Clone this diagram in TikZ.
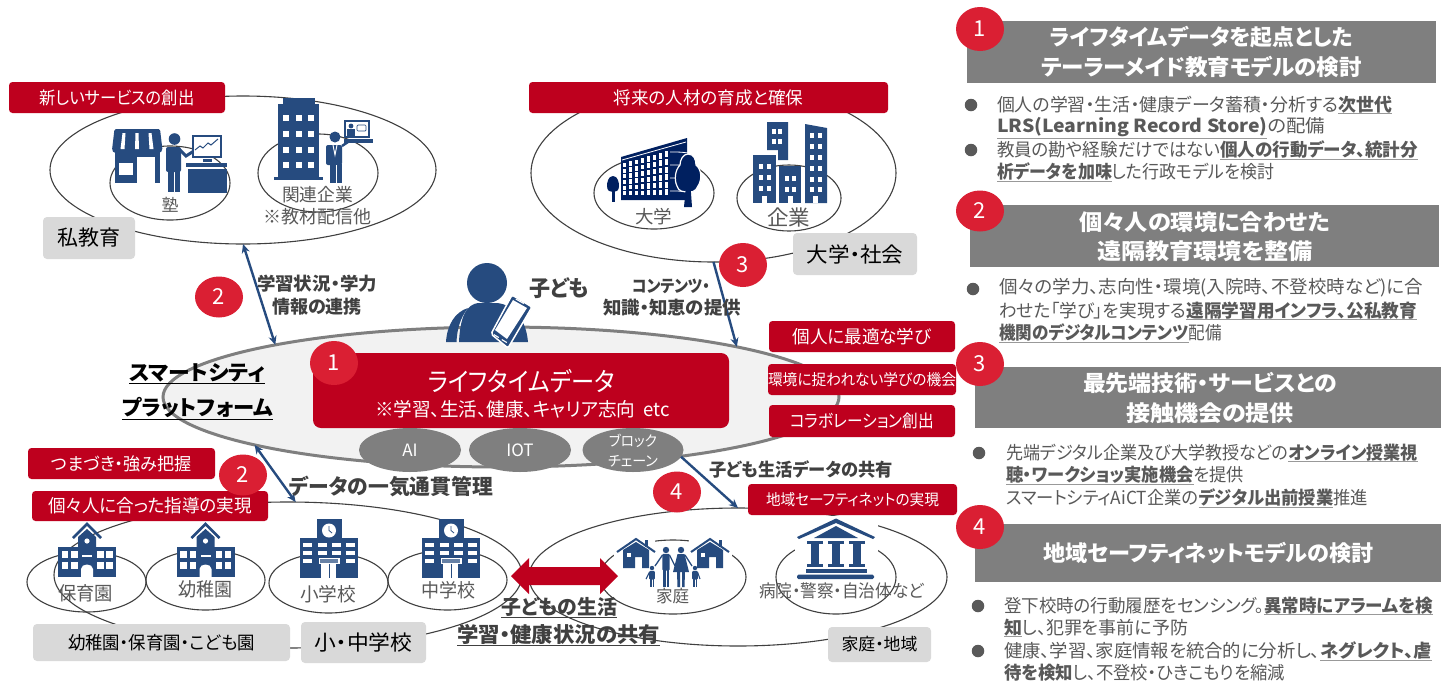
\documentclass[tikz,border=0pt]{standalone}
\usepackage{fontspec}
\usetikzlibrary{shapes.geometric,arrows.meta}
\setmainfont[RawFeature=+palt]{Noto Sans CJK JP}
\definecolor{redL}{HTML}{BE001E}
\definecolor{redC}{HTML}{DA1F33}
\definecolor{icb}{HTML}{264B7F}
\definecolor{navy}{HTML}{002060}
\definecolor{grayH}{HTML}{7F7F7F}
\definecolor{grayB}{HTML}{D9D9D9}
\definecolor{txtG}{HTML}{595959}
\definecolor{txtD}{HTML}{404040}
\definecolor{lineG}{HTML}{404040}
\newsavebox\mybx
\newcommand\fitw[2]{\sbox\mybx{#2}\pgfmathsetmacro\myfr{#1/\the\wd\mybx}\scalebox{\myfr}[1]{\usebox\mybx}}
\newcommand\ulx[2][.9pt]{\leavevmode\vtop{\hbox{#2}\kern.6pt\hrule height#1}}
\newcommand\ulg[1]{\leavevmode\vtop{\hbox{\bfseries #1}\kern.6pt{\color{black!40}\hrule height1pt}}}
\tikzset{
  fs/.style={font=\fontsize{#1}{#1}\selectfont},
  bfs/.style={font=\fontsize{#1}{#1}\selectfont\bfseries},
  txt/.style={inner sep=0pt,outer sep=0pt,text=txtG},
  ovl/.style={draw=lineG,line width=1.1pt},
  redbox/.style={rectangle,fill=redL,rounded corners=3.5pt,text=white},
  greybox/.style={rectangle,fill=grayB,rounded corners=4pt,text=black},
  hdrbox/.style={rectangle,fill=grayH},
  numc/.style={fill=redC,text=white},
  blob/.style={fill=grayH,text=white},
  bul/.style={circle,fill=txtG,inner sep=0pt,outer sep=0pt,minimum size=12.5pt},
  conn/.style={draw=icb,line width=2.4pt},
  tipE/.style={-{Stealth[length=9pt,width=8pt]}},
  tipB/.style={{Stealth[length=9pt,width=8pt]}-{Stealth[length=9pt,width=8pt]}},
  ic/.style={fill=icb},
}
% text line: name, x, y, width, style, content
\newcommand\tl[6]{\node[txt,#5] (#1) at (#2,#3) {\fitw{#4}{#6}};}
% box: style, name, x1,y1,x2,y2, content
\newcommand\boxn[7]{\node[#1,inner sep=0pt,outer sep=0pt,minimum width={(#5-#3)*1pt},minimum height={(#6-#4)*1pt}] (#2) at ({(#3+#5)/2},{(#4+#6)/2}) {#7};}
% ellipse: style, name, cx,cy,rx,ry, content
\newcommand\ovn[7]{\node[ellipse,#1,inner sep=0pt,outer sep=0pt,minimum width={2*#5*1pt},minimum height={2*#6*1pt}] (#2) at (#3,#4) {#7};}
\newcommand\numn[5]{\ovn{numc}{#1}{#2}{#3}{24}{#4}{\fontsize{22}{22}\selectfont #5}}
\newcommand\icoKinder[2]{\begin{scope}[shift={(#1,#2)}]
  \draw[icb,line width=2.6pt] (-14,-39)--(0,-53)--(14,-39);
  \fill[ic] (-29,-30) rectangle (29,0);
  \fill[ic] (-9,-30)--(-9,-40)--(0,-48)--(9,-40)--(9,-30)--cycle;
  \fill[white] (0,-36) circle[radius=2.6pt];
  \foreach \a in {-25.5,-16,10,19} \foreach \b in {-26,-15} \fill[white] (\a,\b) rectangle ++(6.5,6.5);
  \fill[white] (-5,-22) rectangle (5,-20);
  \fill[white] (-6,0)--(-6,-8) .. controls (-6,-14) and (6,-14) .. (6,-8)--(6,0)--cycle;
\end{scope}}
\newcommand\icoSchool[2]{\begin{scope}[shift={(#1,#2)}]
  \fill[ic] (-29,-40) rectangle (29,0);
  \fill[ic] (-12.5,-59) rectangle (12.5,-40);
  \fill[white] (0,-47.5) circle[radius=7pt];
  \draw[icb,line width=.8pt] (0,-52)--(0,-47.5)--(3,-45);
  \foreach \a in {-26,-11,3,17} \foreach \b in {-35,-27} \fill[white] (\a,\b) rectangle ++(8.6,4);
  \foreach \a in {-26,17} \fill[white] (\a,-19) rectangle ++(8.6,4);
  \fill[white] (-8,-14) rectangle (7,0);
  \draw[icb,line width=.7pt] (0,-14)--(0,0);
  \fill[white] (-10.5,-20) rectangle (10.5,-14);
  \fill[icb!70] (-9,-19) rectangle (9,-15);
\end{scope}}
\newcommand\icoPpl[5]{% cx, head y, head r, half width, bottom
  \fill[ic] (#1,#2) circle[radius=#3pt];
  \fill[ic,rounded corners=1pt] ({#1-#4},{#2+#3+.6}) rectangle ({#1+#4},{(#2+#5)/2+2});
  \fill[ic] ({#1-#4+.5},{(#2+#5)/2}) rectangle ({#1-.5},#5);
  \fill[ic] ({#1+.5},{(#2+#5)/2}) rectangle ({#1+#4-.5},#5);
}
\newcommand\icoHouse[2]{\begin{scope}[shift={(#1,#2)}]
  \draw[icb,line width=2pt] (-19,13)--(0,0)--(19,13);
  \fill[ic] (-13,11)--(0,3)--(13,11)--(13,29)--(6,29)--(6,18)--(-1,18)--(-1,29)--(-13,29)--cycle;
  \fill[white] (-9,14) rectangle (-5,18);
  \fill[ic] (9,1) rectangle (12,8);
\end{scope}}
\begin{document}
\begin{tikzpicture}[x=1pt,y=-1pt]
\fill[white] (0,0) rectangle (1441,681);
\useasboundingbox (0,0) rectangle (1441,681);

% ---------- big ellipses ----------
\ovn{ovl}{privEd}{243}{170}{193}{74}{}
\ovn{ovl}{juku}{170}{183}{60}{37}{}
\ovn{ovl}{kanren}{318}{173}{60}{39}{}
\ovn{ovl}{univSoc}{713.5}{173}{182.5}{89}{}
\ovn{ovl}{daigaku}{654}{193}{60}{36}{}
\ovn{ovl}{kigyo}{789}{198}{52}{33}{}
\ovn{ovl}{schools}{288}{575}{234}{73}{}
\ovn{ovl}{hoiku}{86.5}{582}{59.5}{30}{}
\ovn{ovl}{yochi}{205.5}{580}{59.5}{30}{}
\ovn{ovl}{shogaku}{328.5}{583}{59.5}{30}{}
\ovn{ovl}{chugaku}{447.5}{580}{59.5}{30}{}
\ovn{ovl}{family}{738}{577}{209}{69}{}
\ovn{ovl}{katei}{673}{577}{73}{37}{}
\ovn{ovl}{byoin}{836}{577}{60}{37}{}

% ---------- platform ----------
\ovn{draw=grayH,line width=3pt,fill=black!5}{platform}{501}{397}{338}{70}{}
\boxn{rectangle,fill=redL,rounded corners=8pt}{lifeBox}{313}{353}{729}{428}{}
\ovn{blob}{ai}{410}{450}{51}{22}{\fontsize{17}{17}\selectfont AI}
\ovn{blob}{iot}{520}{450}{51}{22}{\fontsize{17}{17}\selectfont IOT}
\ovn{blob}{block}{633}{450}{50.5}{22}{}
\tl{blockA}{633}{441}{48}{fs=14.5,text=white}{ブロック}
\tl{blockB}{633}{461}{50}{fs=14.5,text=white}{チェーン}
\tl{lifeT}{521.5}{381}{187}{fs=26,text=white}{ライフタイムデータ}
\tl{lifeS}{522.5}{409}{295}{fs=19,text=white}{※学習、生活、健康、キャリア志向\ \ etc}

% ---------- connectors ----------
\draw[conn,tipB] (privEd.-90) -- (platform.167.7);
\draw[conn,tipB] (platform.191.9) -- (schools.84);
\draw[conn,tipE] (univSoc.south) -- (platform.12);
\draw[conn,tipE] (block.-8) -- (family.north);

% ---------- icons: store + teacher ----------
\fill[ic,rounded corners=1.5pt] (112,150)--(114.5,129)--(160,129)--(162.5,150)--(160,153)--(114,153)--cycle;
\fill[white] (122.5,133)--(125.5,133)--(124.5,149)--(120.5,149)--cycle;
\fill[white] (135.5,133)--(138.5,133)--(139,149)--(135,149)--cycle;
\fill[white] (148.5,133)--(151.5,133)--(153.5,149)--(149.5,149)--cycle;
\fill[ic] (115,151) rectangle (160,183);
\fill[white] (119,163) rectangle (133,175);
\fill[white] (137,157) rectangle (154.5,183);
\fill[ic] (174.5,139) circle[radius=5.8pt];
\fill[ic,rounded corners=2pt] (166,147) rectangle (181,172);
\fill[ic] (168,170) rectangle (173.5,192);
\fill[ic] (174.5,170) rectangle (180,192);
\draw[icb,line width=3pt] (180,150)--(186,156)--(197,149);
\draw[icb,line width=2pt,fill=white] (193,136) rectangle (220.5,157);
\draw[icb,line width=1pt] (195,150)--(200,146)--(203,148)--(208,143)--(211,145)--(218,139);
\fill[ic] (203,159) rectangle (212,162);
\fill[ic] (186,163) rectangle (227,166.5);
\fill[ic] (187.5,169) rectangle (227,193);
% building + businessman
\fill[ic] (283,98) rectangle (315,108);
\fill[ic] (278,104) rectangle (319,178);
\fill[ic] (274,177) rectangle (323,180);
\foreach \a in {283,296,308} \foreach \b in {115,131,147,162} \fill[white] (\a,\b) rectangle ++(6,6);
\fill[ic] (335,137) circle[radius=5.5pt];
\fill[ic,rounded corners=2pt] (326,145) rectangle (342,165);
\fill[ic] (330,164) rectangle (342,183);
\draw[white,line width=.7pt] (336,165)--(336,183);
\draw[white,line width=.9pt] (333,145)--(335,155)--(337,145);
\draw[icb,line width=2.4pt] (342,146)--(348,142);
\draw[icb,line width=2pt,fill=white] (345,121) rectangle (369,137);
\fill[ic] (344,139) rectangle (373,143);
\fill[ic] (351,126) circle[radius=2.4pt];
\fill[ic] (347,129) rectangle (355,136);
\draw[icb,line width=.7pt,rounded corners=1pt] (357,125) rectangle (366,131);

% ---------- university ----------
\fill[navy] (621,157)--(687,138)--(688,200)--(621,200)--cycle;
\draw[white,line width=.7pt] (621,155)--(686,136.5);
\draw[white,line width=.8pt] (622,160)--(686,142);
\foreach \i in {0,...,7} \foreach \j in {0,...,5} {
  \pgfmathsetmacro\wx{622.5+\i*6}
  \pgfmathsetmacro\wt{163-\i*1.65}
  \pgfmathsetmacro\wh{(197-\wt)/6}
  \pgfmathsetmacro\wy{\wt+\j*\wh}
  \fill[white] (\wx,\wy) rectangle ++(3.6,{\wh-1.6});
}
\foreach \b in {152,165,178,191} \draw[white,line width=.8pt] (670,\b) .. controls (678,\b) and (682,\b) .. (688,{\b+1});
\path[fill=navy,draw=white,line width=1.2pt] (688,154) .. controls (694,154) and (696,160) .. (696,165) .. controls (702,170) and (702,180) .. (698,186) .. controls (696,192) and (690,193) .. (688,191) .. controls (684,193) and (678,191) .. (677,186) .. controls (674,180) and (675,170) .. (680,165) .. controls (680,160) and (683,154) .. (688,154) -- cycle;
\fill[navy] (686,186)--(690.5,186)--(692,207)--(684,207)--cycle;
\fill[navy] (613,176) .. controls (618,176) and (619,183) .. (619,186) .. controls (619,191) and (616,192) .. (613,192) .. controls (610,192) and (607,191) .. (607,186) .. controls (607,183) and (608,176) .. (613,176) -- cycle;
\fill[navy] (612,190) rectangle (614.5,202);

% ---------- companies ----------
\fill[ic] (767,122)--(788,122)--(788,160)--(778,160)--(778,150)--(767,150)--cycle;
\fill[ic] (805,124)--(827,128)--(827,203)--(805,203)--cycle;
\fill[ic] (753,155) rectangle (776,203);
\fill[ic] (779,166) rectangle (801,203);
\foreach \b in {129,139} \foreach \a in {772,778} \fill[white] (\a,\b) rectangle ++(4,5);
\foreach \b in {133,144,155,166,177,187} \foreach \a in {810,818} \fill[white] (\a,\b) rectangle ++(4,5);
\foreach \b in {164,175,186} \foreach \a in {759,767} \fill[white] (\a,\b) rectangle ++(4,5);
\foreach \b in {176,187} \foreach \a in {785,792} \fill[white] (\a,\b) rectangle ++(4,5);
\foreach \a in {762,788,813} \fill[white] (\a,196) rectangle ++(5,7);

% ---------- school icons ----------
\icoKinder{87}{577}
\icoKinder{205.5}{577}
\icoSchool{329}{578}
\icoSchool{451}{578}

% ---------- family icon ----------
\fill[white] (614,536) rectangle (655,570);
\fill[white] (689,536) rectangle (732,570);
\fill[white] (645,546) rectangle (702,590);
\icoHouse{636}{539}
\icoHouse{710}{539}
% father
\icoPpl{666}{550}{3.2}{3.6}{587}
\draw[icb,line width=1.3pt] (662.5,555)--(655,566);
\draw[icb,line width=1.3pt] (669.5,555)--(675,566);
% mother
\fill[ic] (681,550) circle[radius=3.2pt];
\fill[ic] (677.5,554)--(684.5,554)--(689,572)--(685,572)--(684.5,587)--(682,587)--(682,572)--(680,572)--(680,587)--(677.5,587)--(677,572)--(673,572)--cycle;
\draw[icb,line width=1.3pt] (685,555)--(692,566);
% children
\icoPpl{652}{568}{2.2}{2.8}{587}
\draw[icb,line width=1.1pt] (649.5,572)--(646,579);
\icoPpl{695}{568}{2.2}{2.8}{587}
\draw[icb,line width=1.1pt] (697.5,572)--(700,579);

% ---------- bank icon ----------
\fill[white] (795,516) rectangle (878,581);
\fill[ic] (836,518.5)--(875,537)--(873,539)--(836,523)--(799,539)--(797,537)--cycle;
\fill[ic] (836,526)--(858,538)--(814,538)--cycle;
\foreach \a in {815,836,857} {
  \fill[ic] ({\a-8},541) rectangle ({\a+8},544);
  \fill[ic] ({\a-4},544) rectangle ({\a+4},564);
  \fill[ic] ({\a-8},564) rectangle ({\a+8},567);
}
\fill[ic] (806,568.5) rectangle (867,572.5);
\fill[ic,rounded corners=1.5pt] (797,574.5) rectangle (874,579);

% ---------- child ----------
\fill[ic] (487,283) circle[radius=20pt];
\fill[ic] (459,342) .. controls (460,320) and (465,303) .. (480,303) -- (497,303) .. controls (515,305) and (526,320) .. (528,342) -- cycle;
\fill[ic] (446,342) .. controls (447,325) and (455,312) .. (468,308) .. controls (460,318) and (457,330) .. (456.5,342) -- cycle;
\fill[icb,draw=white,line width=1.5pt,rounded corners=2pt] (512,295)--(532,307)--(508,348)--(491,334)--cycle;
\fill[white] (513,300)--(527,308)--(507,339)--(495,330)--cycle;
\fill[white] (516,298.5)--(524,303)--(523.5,304)--(515.5,299.5)--cycle;
\fill[white] (494,334)--(499,337)--(498.5,338)--(493.5,335)--cycle;
\fill[white] (502,339)--(507,342)--(506.5,343)--(501.5,340)--cycle;

% ---------- red double arrow ----------
\fill[redL] (511,576)--(529,558)--(529,567)--(600,567)--(600,558)--(618,576)--(600,594)--(600,585)--(529,585)--(529,594)--cycle;

% ---------- labels ----------
\boxn{redbox}{labNew}{9}{82}{225}{113}{\fontsize{17.5}{17.5}\selectfont\fitw{155}{新しいサービスの創出}}
\boxn{redbox}{labFuture}{529}{82}{888}{113}{\fontsize{17.5}{17.5}\selectfont\fitw{190}{将来の人材の育成と確保}}
\boxn{redbox}{labBest}{769}{321}{955}{352}{\fontsize{18}{18}\selectfont\fitw{139}{個人に最適な学び}}
\boxn{redbox}{labEnv}{769}{364}{955}{395}{\fontsize{15.5}{15.5}\selectfont\fitw{188}{環境に捉われない学びの機会}}
\boxn{redbox}{labCollab}{769}{405}{955}{437}{\fontsize{17.5}{17.5}\selectfont\fitw{144}{コラボレーション創出}}
\boxn{redbox}{labSafe}{748}{484}{957}{515}{\fontsize{15.5}{15.5}\selectfont\fitw{173}{地域セーフティネットの実現}}
\boxn{redbox}{labTsuma}{28}{448}{215}{479}{\fontsize{17.5}{17.5}\selectfont\fitw{140}{つまづき・強み把握}}
\boxn{redbox}{labKojin}{32}{491}{268}{521}{\fontsize{18}{18}\selectfont\fitw{204}{個々人に合った指導の実現}}
\boxn{greybox}{gShi}{43}{217}{135}{259}{\fontsize{21}{21}\selectfont\fitw{63}{私教育}}
\boxn{greybox}{gUniv}{793}{233}{917}{275}{\fontsize{21}{21}\selectfont\fitw{97}{大学・社会}}
\boxn{greybox}{gYochi}{33}{624}{290}{661}{\fontsize{18}{18}\selectfont\fitw{187}{幼稚園・保育園・こども園}}
\boxn{greybox}{gSho}{301}{622}{426}{663}{\fontsize{21}{21}\selectfont\fitw{98}{小・中学校}}
\boxn{greybox}{gKatei}{828}{627}{931}{662}{\fontsize{17}{17}\selectfont\fitw{76}{家庭・地域}}

% ---------- numbered circles (left) ----------
\numn{n1L}{334}{363}{22}{1}
\numn{n2L}{219}{297}{20.5}{2}
\numn{n2Lb}{243}{475}{20.5}{2}
\numn{n3L}{743}{265}{22}{3}
\numn{n4L}{677}{492}{20.5}{4}

% ---------- texts left ----------
\tl{tJuku}{170}{205}{17}{fs=17}{塾}
\tl{tKan}{317.5}{195}{71}{fs=18}{関連企業}
\tl{tKyo}{317.5}{217}{108}{fs=18}{※教材配信他}
\tl{tDai}{653.5}{217}{37}{fs=18}{大学}
\tl{tKig}{788.5}{217}{43}{fs=21}{企業}
\tl{tGak}{317}{284}{120}{bfs=18,text=txtD}{学習状況・学力}
\tl{tJoh}{317}{307}{90}{bfs=18,text=txtD}{情報の連携}
\tl{tKodo}{559}{288}{60}{bfs=22,text=txtD}{子ども}
\tl{tSma}{197}{374}{136}{bfs=21,text=black}{\ulx[1.5pt]{スマートシティ}}
\tl{tPla}{197.5}{409}{151}{bfs=21,text=black}{\ulx[1.5pt]{プラットフォーム}}
\tl{tCon}{671}{286}{78}{bfs=17,text=txtD}{コンテンツ・}
\tl{tChi}{672}{308}{138}{bfs=18,text=txtD}{知識・知恵の提供}
\tl{tSei}{801}{469}{184}{bfs=18,text=txtD}{子ども生活データの共有}
\tl{tData}{391}{486}{204}{bfs=21,text=txtD}{データの一気通貫管理}
\tl{tHoi}{85.5}{593}{55}{fs=19}{保育園}
\tl{tYoc}{205}{589}{54}{fs=19}{幼稚園}
\tl{tSho}{328}{594}{56}{fs=19}{小学校}
\tl{tChu}{448}{590}{54}{fs=19}{中学校}
\tl{tKat}{672.5}{596}{33}{fs=17}{家庭}
\tl{tByo}{841.5}{591}{165}{fs=17.5}{病院・警察・自治体など}
\tl{tKod}{559}{608}{116}{bfs=20,text=txtD}{\ulx[1.1pt]{子どもの生活}}
\tl{tGaku}{558.5}{635}{203}{bfs=21,text=txtD}{\ulx[1.1pt]{学習・健康状況の共有}}

% ---------- right panel ----------
\boxn{hdrbox}{h1}{967}{21}{1436}{83}{}
\numn{n1}{980}{29}{22}{1}
\tl{h1a}{1201.5}{37}{303}{bfs=22,text=white}{ライフタイムデータを起点とした}
\tl{h1b}{1201.5}{67}{321}{bfs=22,text=white}{テーラーメイド教育モデルの検討}
\node[bul] (b1a) at (971,105) {};
\tl{l1a}{1194.5}{105}{395}{fs=18}{個人の学習・生活・健康データ蓄積・分析する\ulg{次世代}}
\tl{l1b}{1161}{128}{328}{fs=18}{\ulg{LRS(Learning Record Store)}の配備}
\node[bul] (b1b) at (971,150) {};
\tl{l1c}{1207.5}{150}{421}{fs=18}{教員の勘や経験だけではない\ulg{個人の行動データ、統計分}}
\tl{l1d}{1135.5}{172}{277}{fs=18}{\ulg{析データを加味}した行政モデルを検討}

\boxn{hdrbox}{h2}{970}{205}{1439}{267}{}
\numn{n2}{980}{211}{20.5}{2}
\tl{h2a}{1204.5}{222}{251}{bfs=22,text=white}{個々人の環境に合わせた}
\tl{h2b}{1205}{251}{216}{bfs=22,text=white}{遠隔教育環境を整備}
\node[bul] (b2a) at (973,289) {};
\tl{l2a}{1211}{288}{424}{fs=18}{個々の学力、志向性・環境(入院時、不登校時など)に合}
\tl{l2b}{1208}{311}{418}{fs=18}{わせた「学び」を実現する\ulg{遠隔学習用インフラ、公私教育}}
\tl{l2c}{1110.5}{333}{223}{fs=18}{\ulg{機関のデジタルコンテンツ}配備}

\boxn{hdrbox}{h3}{975}{367}{1441}{428}{}
\numn{n3}{980}{364}{22}{3}
\tl{h3a}{1210}{383}{254}{bfs=22,text=white}{最先端技術・サービスとの}
\tl{h3b}{1210}{413}{168}{bfs=22,text=white}{接触機会の提供}
\node[bul] (b3a) at (979,453) {};
\tl{l3a}{1212}{453}{412}{fs=18}{先端デジタル企業及び大学教授などの\ulg{オンライン授業視}}
\tl{l3b}{1125}{476}{238}{fs=18}{\ulg{聴・ワークショッ実施機会}を提供}
\tl{l3c}{1187}{498}{362}{fs=18}{スマートシティAiCT企業の\ulg{デジタル出前授業}推進}

\boxn{hdrbox}{h4}{975}{524}{1441}{582}{}
\numn{n4}{980}{527}{22}{4}
\tl{h4a}{1208.5}{553}{331}{bfs=22,text=white}{地域セーフティネットモデルの検討}
\node[bul] (b4a) at (978,606) {};
\tl{l4a}{1218.5}{606}{429}{fs=18}{登下校時の行動履歴をセンシング。\ulg{異常時にアラームを検}}
\tl{l4b}{1096}{628}{184}{fs=18}{\ulg{知}し、犯罪を事前に予防}
\node[bul] (b4b) at (978,651) {};
\tl{l4c}{1218}{651}{428}{fs=18}{健康、学習、家庭情報を統合的に分析し、\ulg{ネグレクト、虐}}
\tl{l4d}{1144.5}{673}{281}{fs=18}{\bfseries 待を検知\mdseries し、不登校・ひきこもりを縮減}
\end{tikzpicture}
\end{document}
